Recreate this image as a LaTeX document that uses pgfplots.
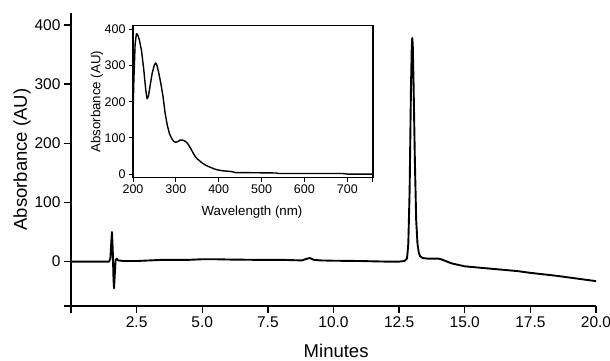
\documentclass[border=0pt]{standalone}
\usepackage{pgfplots}
\pgfplotsset{compat=1.18}
\usepackage{fontspec}
\setmainfont{Liberation Sans}
\begin{document}
\begin{tikzpicture}[x=1pt,y=1pt]
\useasboundingbox (0,0) rectangle (610,361);
\begin{axis}[
  at={(71pt,55pt)}, anchor=south west,
  scale only axis, width=525pt, height=293pt,
  xmin=0, xmax=20, ymin=-75, ymax=420,
  axis x line=bottom, axis y line=left,
  axis line style={-, line width=1.5pt},
  tick align=outside, major tick length=7pt,
  tick style={line width=1.4pt, black},
  xtick={0,2.5,5,7.5,10,12.5,15,17.5,20},
  xticklabels={,2.5,5.0,7.5,10.0,12.5,15.0,17.5,20.0},
  ytick={-75,0,100,200,300,400},
  yticklabels={,0,100,200,300,400},
  /pgf/number format/assume math mode=true,
  tick label style={font=\fontsize{15.5}{18}\selectfont},
  xlabel={Minutes}, ylabel={Absorbance (AU)},
  label style={font=\fontsize{18.5}{22}\selectfont},
  xlabel style={at={(axis description cs:0.505,-0.154)}, anchor=center},
  ylabel style={at={(axis description cs:-0.093,0.5)}, anchor=center},
  clip=false,
]
\addplot[black, line width=1.9pt, line join=round] coordinates {
(0,0) (1.0,0) (1.45,0) (1.50,5) (1.53,30) (1.56,50) (1.59,20) (1.62,-30) (1.64,-45) (1.67,-20)
(1.70,3) (1.74,5) (1.80,2) (2.0,1) (2.5,1) (3.0,2) (3.5,3) (4.5,3) (5.0,4) (5.5,4) (6.0,3.5)
(7.0,3) (8.0,3) (8.8,2) (9.0,5) (9.1,6) (9.25,3) (9.5,2) (10.0,1.5) (11.0,1) (12.0,0) (12.5,0)
(12.7,1) (12.8,5) (12.85,30) (12.9,120) (12.95,290) (12.98,360) (13.0,378) (13.02,365) (13.05,300)
(13.1,170) (13.15,70) (13.2,30) (13.25,15) (13.3,9) (13.4,6) (13.6,5) (14.0,5) (14.1,4) (14.5,-3)
(15.0,-8) (16.0,-12) (17.0,-16) (17.5,-19) (18.5,-24) (19.5,-30) (20,-33)
};
\end{axis}
\begin{axis}[
  at={(133pt,183.3pt)}, anchor=south west,
  scale only axis, width=240pt, height=152pt,
  xmin=200, xmax=760, ymin=-10, ymax=410,
  axis line style={line width=1.1pt},
  tick align=outside, major tick length=4pt,
  tick style={line width=1pt, black},
  xtick={200,300,400,500,600,700}, extra x ticks={760}, extra x tick labels={},
  ytick={0,100,200,300,400},
  xtick pos=bottom, ytick pos=left,
  /pgf/number format/assume math mode=true,
  tick label style={font=\fontsize{12.5}{14}\selectfont},
  xlabel={Wavelength (nm)}, ylabel={Absorbance (AU)},
  label style={font=\fontsize{13.3}{15}\selectfont},
  xlabel style={at={(axis description cs:0.496,-0.224)}, anchor=center},
  ylabel style={at={(axis description cs:-0.15,0.5)}, anchor=center},
]
\addplot[black, line width=1.4pt, line join=round] coordinates {
(200,160) (202,260) (205,360) (208,388) (211,385) (215,370) (220,340) (225,290) (230,230) (233,208)
(236,215) (240,245) (245,280) (250,302) (253,307) (256,300) (260,280) (265,250) (270,215) (275,168)
(280,135) (285,112) (290,99) (295,90) (300,88) (305,90) (310,94) (315,94) (320,92) (325,88)
(330,80) (335,70) (340,59) (345,49) (350,42) (360,32) (370,24) (380,19) (390,14) (400,11)
(410,9) (420,8) (430,7) (440,4) (460,4) (500,3.5) (535,3) (540,1.5) (600,1.5) (690,1.5) (700,0) (760,0)
};
\end{axis}
\end{tikzpicture}
\end{document}
